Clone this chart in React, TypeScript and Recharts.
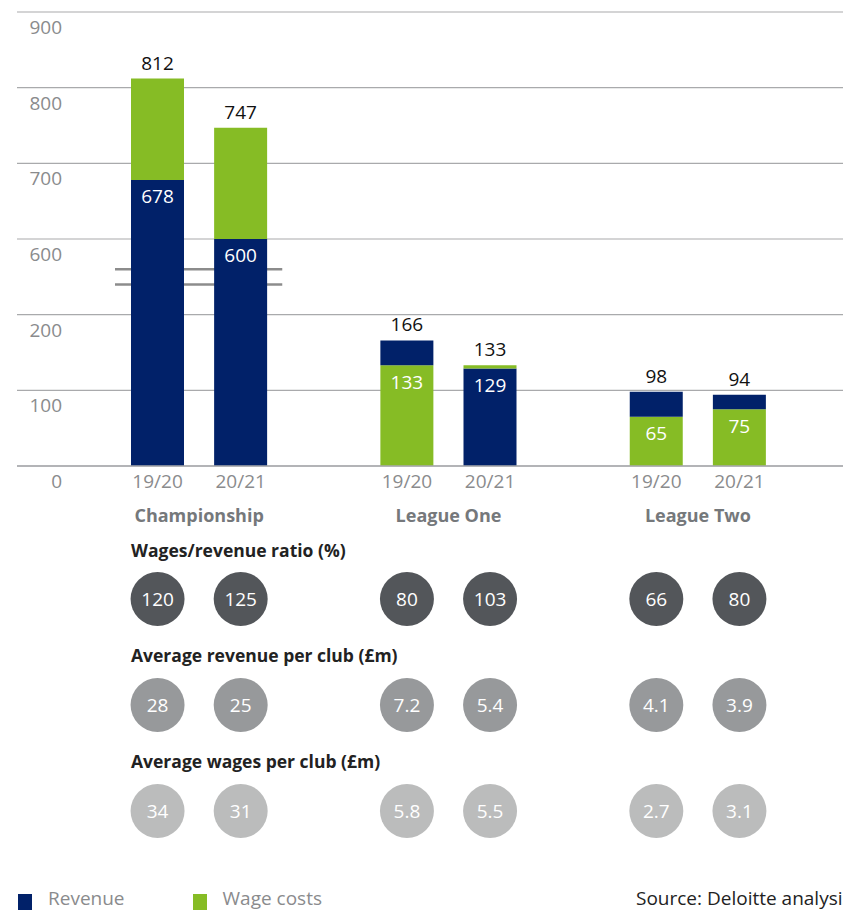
import { BarChart, Bar, Cell, XAxis, YAxis, CartesianGrid, LabelList, ReferenceArea, ScatterChart, Scatter } from 'recharts';

const groups = ['Championship', 'League One', 'League Two'];
const seasons = ['19/20', '20/21'];
const revenue = [678, 600, 166, 129, 98, 94];
const wages = [812, 747, 133, 133, 65, 75];
const ratio = [120, 125, 80, 103, 66, 80];
const avgRevenue = [28, 25, 7.2, 5.4, 4.1, 3.9];
const avgWages = [34, 31, 5.8, 5.5, 2.7, 3.1];
const yTicks = [0, 100, 200, 600, 700, 800, 900];

const NAVY = '#012169';
const GREEN = '#86bc25';
const FONT = '"Open Sans", sans-serif';

// the axis is broken between 200 and 600: values above the break are shifted down by 300
const BREAK_LOW = 200;
const SHIFT = 300;
const toDisp = (v: number) => (v > BREAK_LOW ? v - SHIFT : v);
const fromDisp = (v: number) => (v > BREAK_LOW ? v + SHIFT : v);

const W = 843;
const BAND = (W - 17 - 99 - 62) / 8;

// 8 slots: two bars per league with an empty slot between leagues
const rows: any[] = [];
groups.forEach((g, gi) => {
  seasons.forEach((s, si) => {
    const i = gi * 2 + si;
    const low = Math.min(revenue[i], wages[i]);
    const high = Math.max(revenue[i], wages[i]);
    rows.push({
      key: `${g}-${s}`,
      season: s,
      group: si === 0 ? g : '',
      low,
      high,
      lowDisp: toDisp(low),
      topDisp: toDisp(high) - toDisp(low),
      lowColor: revenue[i] <= wages[i] ? NAVY : GREEN,
      topColor: revenue[i] <= wages[i] ? GREEN : NAVY,
      ratio: ratio[i],
      avgRevenue: avgRevenue[i],
      avgWages: avgWages[i],
    });
  });
  if (gi < groups.length - 1) rows.push({ key: `gap-${gi}`, season: '', group: '' });
});

const YTick = (props: any) => {
  const { y, payload } = props;
  return (
    <text x={62} y={y + 22} textAnchor="end" fill="#8a8b8d" fontSize={19} fontFamily={FONT}>
      {fromDisp(payload.value)}
    </text>
  );
};

const XTick = (props: any) => {
  const { x, y, index } = props;
  const row = rows[index];
  if (!row || !row.season) return null;
  return (
    <g>
      <text x={x} y={y + 14} textAnchor="middle" fill="#8a8b8d" fontSize={19} fontFamily={FONT}>
        {row.season}
      </text>
      {row.group && (
        <text x={x + BAND / 2} y={y + 48} textAnchor="middle" fill="#75787b" fontSize={18} fontWeight={700} fontFamily={FONT}>
          {row.group}
        </text>
      )}
    </g>
  );
};

const BreakMark = (props: any) => {
  const { x, y, width, height } = props;
  return (
    <g>
      <rect x={x - 1} y={y} width={width + 1} height={height} fill="#fff" />
      <line x1={x - 1} x2={x + width} y1={y} y2={y} stroke="#8c8c8c" strokeWidth={2.5} />
      <line x1={x - 1} x2={x + width} y1={y + height} y2={y + height} stroke="#8c8c8c" strokeWidth={2.5} />
    </g>
  );
};

function CircleRow({ top, dataKey, color }: { top: number; dataKey: string; color: string }) {
  const data = rows.map((r) => ({ key: r.key, y: r.season ? 0.5 : null, v: r[dataKey] }));
  return (
    <div style={{ position: 'absolute', left: 0, top }}>
      <ScatterChart width={W} height={60} margin={{ top: 0, right: 0, bottom: 0, left: 17 }}>
        <XAxis dataKey="key" type="category" hide padding={{ left: 99, right: 62 }} allowDuplicatedCategory={false} />
        <YAxis dataKey="y" type="number" hide domain={[0, 1]} />
        <Scatter
          data={data}
          isAnimationActive={false}
          shape={(p: any) => {
            if (p.payload.v == null) return <g />;
            return (
              <g>
                <circle cx={p.cx} cy={p.cy} r={27} fill={color} />
                <text x={p.cx} y={p.cy + 7} textAnchor="middle" fill="#fff" fontSize={19} fontFamily={FONT}>
                  {p.payload.v}
                </text>
              </g>
            );
          }}
        />
      </ScatterChart>
    </div>
  );
}

const headingStyle: React.CSSProperties = {
  position: 'absolute',
  left: 131,
  fontFamily: FONT,
  fontWeight: 700,
  fontSize: 17.5,
  lineHeight: '22px',
  color: '#222',
  whiteSpace: 'nowrap',
};

export default function App() {
  return (
    <div style={{ position: 'absolute', left: 0, top: 0, width: W, height: 910, overflow: 'hidden', background: '#fff', fontFamily: FONT }}>
      <BarChart width={W} height={540} data={rows} margin={{ top: 12, right: 0, bottom: 0, left: 17 }}>
        <CartesianGrid vertical={false} stroke="#a9aaac" strokeWidth={1.2} />
        <XAxis
          dataKey="key"
          height={74}
          padding={{ left: 99, right: 62 }}
          axisLine={{ stroke: '#a9aaac', strokeWidth: 1.5 }}
          tickLine={false}
          tick={<XTick />}
          interval={0}
        />
        <YAxis
          width={1}
          mirror
          domain={[0, 600]}
          ticks={yTicks.map(toDisp)}
          axisLine={false}
          tickLine={false}
          tick={<YTick />}
          interval={0}
        />
        <Bar dataKey="lowDisp" stackId="a" barSize={53} isAnimationActive={false}>
          {rows.map((r) => (
            <Cell key={r.key} fill={r.lowColor} />
          ))}
          <LabelList dataKey="low" position="insideTop" offset={10} fill="#fff" fontSize={19} fontFamily={FONT} />
        </Bar>
        <Bar dataKey="topDisp" stackId="a" barSize={53} isAnimationActive={false}>
          {rows.map((r) => (
            <Cell key={r.key} fill={r.topColor} />
          ))}
          <LabelList dataKey="high" position="top" offset={9} fill="#111" fontSize={19} fontFamily={FONT} />
        </Bar>
        <ReferenceArea x1={rows[0].key} x2={rows[1].key} y1={240} y2={260} shape={<BreakMark />} ifOverflow="visible" />
      </BarChart>

      <div style={{ ...headingStyle, top: 539 }}>Wages/revenue ratio (%)</div>
      <CircleRow top={569} dataKey="ratio" color="#53565a" />
      <div style={{ ...headingStyle, top: 644 }}>Average revenue per club (£m)</div>
      <CircleRow top={675} dataKey="avgRevenue" color="#97999b" />
      <div style={{ ...headingStyle, top: 750 }}>Average wages per club (£m)</div>
      <CircleRow top={781} dataKey="avgWages" color="#bbbcbc" />

      <div style={{ position: 'absolute', top: 885, left: 18, display: 'flex', alignItems: 'center', fontSize: 19, lineHeight: '26px', color: '#8a8b8d', whiteSpace: 'nowrap' }}>
        <span style={{ width: 14, height: 16, background: NAVY, display: 'inline-block', marginTop: 8 }} />
        <span style={{ marginLeft: 16 }}>Revenue</span>
        <span style={{ width: 14, height: 16, background: GREEN, display: 'inline-block', marginTop: 8, marginLeft: 68 }} />
        <span style={{ marginLeft: 16 }}>Wage costs</span>
      </div>
      <div style={{ position: 'absolute', top: 885, left: 636, fontSize: 19, lineHeight: '26px', color: '#222', whiteSpace: 'nowrap' }}>
        Source: Deloitte analysis
      </div>
    </div>
  );
}
